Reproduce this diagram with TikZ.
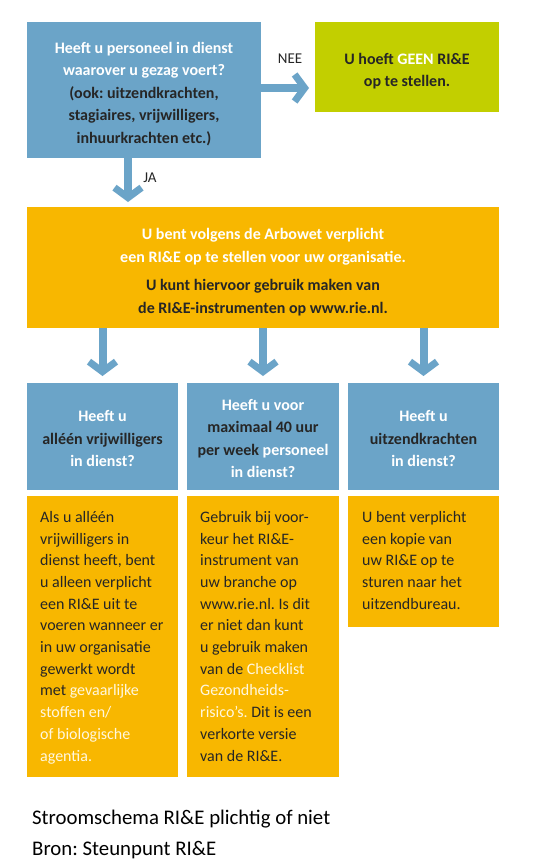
\documentclass[tikz,border=0pt]{standalone}
\usepackage{fontspec}
\setmainfont{Carlito}
\usetikzlibrary{arrows.meta}
\definecolor{qblue}{HTML}{6BA4C8}
\definecolor{lime}{HTML}{C2CF00}
\definecolor{amber}{HTML}{F8B700}
\definecolor{ink}{HTML}{262626}
\definecolor{cream}{HTML}{FFF7DF}
\newcommand\lite[1]{\textcolor{cream}{#1}}
\newcommand\wht[1]{\textcolor{white}{#1}}
\frenchspacing
\begin{document}
\begin{tikzpicture}[x=1pt,y=-1pt,
  box/.style={inner sep=0pt, outer sep=0pt, draw=none},
  bluebox/.style={box, fill=qblue},
  ambbox/.style={box, fill=amber},
  limebox/.style={box, fill=lime},
  headtxt/.style={inner sep=0pt, align=center, text=ink,
    font=\fontsize{16}{22.5}\selectfont\bfseries\frenchspacing},
  bodytxt/.style={inner sep=0pt, align=left, text=ink, anchor=north west,
    font=\fontsize{16}{21.7}\selectfont\frenchspacing},
  lbl/.style={inner sep=0pt, text=ink, font=\fontsize{15}{17}\selectfont},
  flow/.style={draw=qblue, line width=8pt,
    -{Straight Barb[length=10pt,width=27pt,line width=7pt,sharp]}},
]
\useasboundingbox (0,0) rectangle (541,867);
\fill[white] (0,0) rectangle (541,867);

% top question
\node[bluebox, minimum width=234pt, minimum height=136pt] (q0) at (144,90) {};
\node[headtxt] (t0) at (144,94) {\wht{Heeft u personeel in dienst}\\\wht{waarover u gezag voert?}\\(ook: uitzendkrachten,\\stagiaires, vrijwilligers,\\inhuurkrachten etc.)};

% no
\node[limebox, minimum width=184pt, minimum height=90pt] (no) at (407,67) {};
\node[headtxt] (tno) at (407,71) {U hoeft \wht{GEEN} RI\&E\\op te stellen.};

% big amber
\node[ambbox, minimum width=472pt, minimum height=121pt] (big) at (263,267.5) {};
\node[headtxt] (tbig1) at (263,246.5) {\wht{U bent volgens de Arbowet verplicht}\\\wht{een RI\&E op te stellen voor uw organisatie.}};
\node[headtxt] (tbig2) at (263,297.5) {U kunt hiervoor gebruik maken van\\de RI\&E-instrumenten op www.rie.nl.};

% question row
\node[bluebox, minimum width=151pt, minimum height=107pt] (qa) at (102.5,436.5) {};
\node[bluebox, minimum width=152pt, minimum height=107pt] (qb) at (263,436.5) {};
\node[bluebox, minimum width=151pt, minimum height=107pt] (qc) at (423.5,436.5) {};
\node[headtxt] (ta) at (102.5,438.5) {\wht{Heeft u}\\alléén vrijwilligers\\\wht{in dienst?}};
\node[headtxt] (tb) at (263,438.5) {\wht{Heeft u voor}\\maximaal 40 uur\\per week \wht{personeel}\\\wht{in dienst?}};
\node[headtxt] (tc) at (423.5,438.5) {\wht{Heeft u}\\uitzendkrachten\\\wht{in dienst?}};

% answer row
\node[ambbox, minimum width=151pt, minimum height=281pt] (aa) at (102.5,636.5) {};
\node[ambbox, minimum width=152pt, minimum height=281pt] (ab) at (263,636.5) {};
\node[ambbox, minimum width=151pt, minimum height=131pt] (ac) at (423.5,561.5) {};
\node[bodytxt] (sa) at (40,511) {Als u alléén\\vrijwilligers in\\dienst heeft, bent\\u alleen verplicht\\een RI\&E uit te\\voeren wanneer er\\in uw organisatie\\gewerkt wordt\\met \lite{gevaarlijke}\\\lite{stoffen en/}\\\lite{of biologische}\\\lite{agentia.}};
\node[bodytxt] (sb) at (200,511) {Gebruik bij voor-\\keur het RI\&E-\\instrument van\\uw branche op\\www.rie.nl. Is dit\\er niet dan kunt\\u gebruik maken\\van de \lite{Checklist}\\\lite{Gezondheids-}\\\lite{risico’s.} Dit is een\\verkorte versie\\van de RI\&E.};
\node[bodytxt] (sc) at (362,511) {U bent verplicht\\een kopie van\\uw RI\&E op te\\sturen naar het\\uitzendbureau.};

% connectors
\draw[flow, shorten >=6pt] (q0.east |- 0,88) -- (no.west |- 0,88);
\node[lbl] (nee) at (290,59) {NEE};
\draw[flow, shorten >=5pt] (q0.south -| 128,0) -- (big.north -| 128,0);
\node[lbl] (ja) at (150,178) {JA};
\draw[flow, shorten >=7pt] (big.south -| qa.south) -- (qa.north);
\draw[flow, shorten >=7pt] (big.south -| qb.south) -- (qb.north);
\draw[flow, shorten >=7pt] (big.south -| qc.south) -- (qc.north);

% caption
\node[inner sep=0pt, anchor=west, font=\fontsize{20.8}{24}\selectfont\frenchspacing] (cap1) at (32,819) {Stroomschema RI\&E plichtig of niet};
\node[inner sep=0pt, anchor=west, font=\fontsize{20.8}{24}\selectfont\frenchspacing] (cap2) at (32,850) {Bron: Steunpunt RI\&E};
\end{tikzpicture}
\end{document}
